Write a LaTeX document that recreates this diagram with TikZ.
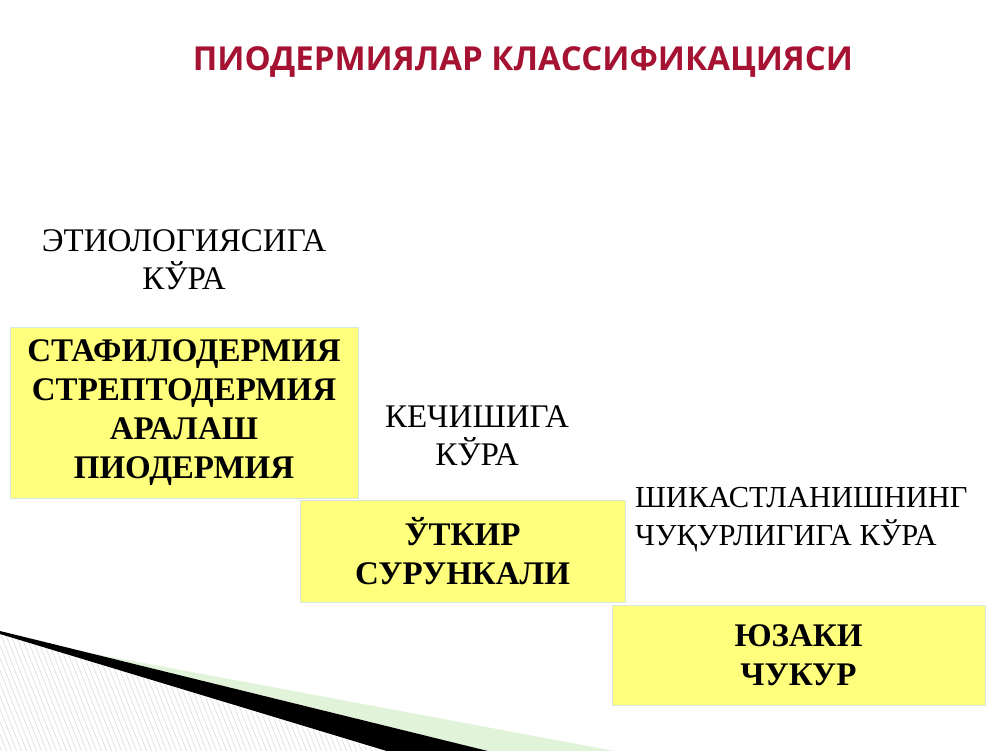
\documentclass[tikz,border=0pt]{standalone}
\usepackage{fontspec}
\setmainfont{Liberation Serif}
\newfontfamily\titlefont{Open Sans}
\definecolor{titlered}{RGB}{165,18,50}
\definecolor{boxyellow}{RGB}{255,255,125}
\definecolor{boxedge}{RGB}{215,232,225}
\definecolor{bandgreen}{RGB}{225,243,216}

\begin{document}
\begin{tikzpicture}[x=1pt,y=-1pt,
   yellowbox/.style={rectangle,fill=boxyellow,draw=boxedge,line width=0.8pt,
      align=center,inner sep=0pt,font=\bfseries\fontsize{33}{39}\selectfont},
   critlabel/.style={align=center,inner sep=0pt,font=\fontsize{33}{38}\selectfont}]
\useasboundingbox (0,0) rectangle (1000,750);
% bottom left corner
\begin{scope}
  \clip (0,634) -- (386,752) -- (0,752) -- cycle;
  \foreach \i in {-320,-315,...,400}
    \draw[gray!30,line width=0.6pt] (\i,620) -- ++(52,132);
\end{scope}
\fill[bandgreen] (90,653) -- (620,752) -- (492,752) -- cycle;
\fill[black] (0,631) -- (492,752) -- (390,752) -- (0,634) -- cycle;
% title
\node[font=\titlefont\bfseries\fontsize{33}{40}\selectfont,text=titlered] (title) at (523,62)
   {ПИОДЕРМИЯЛАР КЛАССИФИКАЦИЯСИ};
% boxes
\node[yellowbox,minimum width=348,minimum height=171] (etio) at (184,412.5)
   {СТАФИЛОДЕРМИЯ\\СТРЕПТОДЕРМИЯ\\АРАЛАШ\\ПИОДЕРМИЯ};
\node[yellowbox,minimum width=325,minimum height=102] (kech) at (462.5,551)
   {ЎТКИР\\СУРУНКАЛИ};
\node[yellowbox,minimum width=373,minimum height=100] (chuq) at (798.5,655)
   {ЮЗАКИ\\ЧУКУР};
% labels
\node[critlabel] (etiolab) at (184,260) {ЭТИОЛОГИЯСИГА\\КЎРА};
\node[critlabel] (kechlab) at (477,436) {КЕЧИШИГА\\КЎРА};
\node[critlabel,align=left,anchor=west,font=\fontsize{30.5}{38}\selectfont] (chuqlab)
   at (635,520) {ШИКАСТЛАНИШНИНГ\\ЧУҚУРЛИГИГА КЎРА};
\end{tikzpicture}
\end{document}
